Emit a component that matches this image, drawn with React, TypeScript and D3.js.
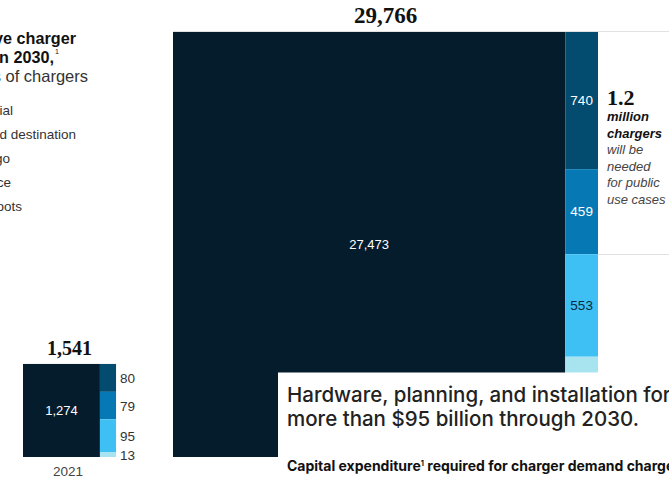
import React from "react";
import * as d3 from "d3";

const years = ["2021", "2030"];
const totals = [1541, 29766];
const residential = [1274, 27473];
const publicSegments = [
  [80, 79, 95, 13],
  [740, 459, 553, 541],
];
const segmentColors = ["#034b6f", "#0679b4", "#3ec0f4", "#a8e4f0"];
const segmentTextColors2030 = ["#ffffff", "#ffffff", "#0b2a3d", "#0b2a3d"];
const titleLines = ["ve charger", "n 2030,"];
const subtitle = "s of chargers";
const legendLabels = ["tial", "d destination", "go", "ce", "oots"];
const noteLines = ["million", "chargers", "will be", "needed", "for public", "use cases"];
const headline = ["Hardware, planning, and installation for", "more than $95 billion through 2030."];

const W = 669;
const H = 479;
const SANS = "'Liberation Sans', Arial, sans-serif";
const CARD = "Inter, 'Liberation Sans', sans-serif";
const SERIF = "'Liberation Serif', 'DejaVu Serif', serif";
const fmt = d3.format(",");
const CARD_TOP = 372.5;

export default function App() {
  const side = d3.scalePow().exponent(0.513).domain([0, 29766]).range([0, 425]);
  const xLeft = d3.scaleOrdinal<string, number>().domain(years).range([23, 173]);
  const bottom = 457;

  const blocks = years.map((y, i) => {
    const s = side(totals[i]);
    const x0 = xLeft(y);
    const y0 = bottom - s;
    const wDark = s * (residential[i] / totals[i]);
    const rest = totals[i] - residential[i];
    const segY = d3.scaleLinear().domain([0, rest]).range([y0, bottom]);
    let acc = 0;
    const segs = publicSegments[i].map((v, j) => {
      const a = segY(acc);
      acc += v;
      const b = segY(acc);
      return { v, y: a, h: b - a, color: segmentColors[j], j };
    });
    return { y, i, s, x0, y0, wDark, segs };
  });

  return (
    <svg
      width={W}
      height={H}
      style={{ position: "absolute", left: 0, top: 0, background: "#fff" }}
      fontFamily={SANS}
    >
      {/* title fragments */}
      <text x={76} y={44} textAnchor="end" fontSize={16.2} fontWeight={700} fill="#111">
        {titleLines[0]}
      </text>
      <text x={54} y={63} textAnchor="end" fontSize={16.2} fontWeight={700} fill="#111">
        {titleLines[1]}
      </text>
      <text x={55} y={54} fontSize={7} fill="#111">1</text>
      <text x={88} y={82} textAnchor="end" fontSize={16.5} fill="#333">
        {subtitle}
      </text>
      {legendLabels.map((l, k) => {
        const ends = [13, 76, 10, 11, 22];
        return (
          <text key={l} x={ends[k]} y={115 + k * 24} textAnchor="end" fontSize={13.5} fill="#333">
            {l}
          </text>
        );
      })}

      {/* top rule lines */}
      <line x1={173} x2={W} y1={31.5} y2={31.5} stroke="#e2e2e2" strokeWidth={1} />
      <line x1={598} x2={W} y1={254.5} y2={254.5} stroke="#e2e2e2" strokeWidth={1} />

      {blocks.map((b) => (
        <g key={b.y}>
          <rect x={b.x0} y={b.y0} width={b.wDark} height={b.s} fill="#051c2c" />
          {b.segs.map((sg) => (
            <rect key={sg.j} x={b.x0 + b.wDark} y={sg.y} width={b.s - b.wDark} height={sg.h} fill={sg.color} />
          ))}
          <text
            x={b.x0 + b.s / 2}
            y={b.y0 - 9}
            textAnchor="middle"
            fontFamily={SERIF}
            fontWeight={700}
            fontSize={b.i === 1 ? 23 : 20}
            fill="#111"
          >
            {fmt(totals[b.i])}
          </text>
          <text
            x={b.x0 + b.wDark / 2}
            y={b.y0 + b.s / 2}
            textAnchor="middle"
            dominantBaseline="central"
            fontSize={13}
            fill="#fff"
          >
            {fmt(residential[b.i])}
          </text>
          {b.segs.map((sg) =>
            b.i === 0 ? (
              <text
                key={"l" + sg.j}
                x={b.x0 + b.s + 4}
                y={sg.y + sg.h / 2 + 1}
                dominantBaseline="central"
                fontSize={13.5}
                fill="#333"
              >
                {fmt(sg.v)}
              </text>
            ) : sg.y + sg.h / 2 < CARD_TOP ? (
              <text
                key={"l" + sg.j}
                x={b.x0 + b.wDark + (b.s - b.wDark) / 2}
                y={sg.y + sg.h / 2}
                textAnchor="middle"
                dominantBaseline="central"
                fontSize={13.5}
                fill={segmentTextColors2030[sg.j]}
              >
                {fmt(sg.v)}
              </text>
            ) : null
          )}
        </g>
      ))}

      <text x={68} y={476} textAnchor="middle" fontSize={13.5} fill="#444">
        {years[0]}
      </text>

      {/* annotation */}
      <text x={607} y={105} fontFamily={SERIF} fontWeight={700} fontSize={22} fill="#111">
        1.2
      </text>
      {noteLines.map((l, k) => (
        <text
          key={l}
          x={607}
          y={121 + k * 16.5}
          fontSize={13}
          fontStyle="italic"
          fontWeight={k < 2 ? 700 : 400}
          fill={k < 2 ? "#111" : "#444"}
        >
          {l}
        </text>
      ))}

      {/* overlay card */}
      <rect x={278} y={CARD_TOP} width={W - 278} height={H - CARD_TOP} fill="#fff" />
      {headline.map((l, k) => (
        <text key={l} x={287} y={402 + k * 24} fontFamily={CARD} fontWeight={500} fontSize={20.5} fill="#222">
          {l}
        </text>
      ))}
      <text x={287} y={471} fontFamily={CARD} fontSize={14} fontWeight={700} fill="#111">
        Capital expenditure
        <tspan dy={-5} fontSize={7.5}>1</tspan>
        <tspan dy={5}> required for charger demand charge</tspan>
      </text>
    </svg>
  );
}
